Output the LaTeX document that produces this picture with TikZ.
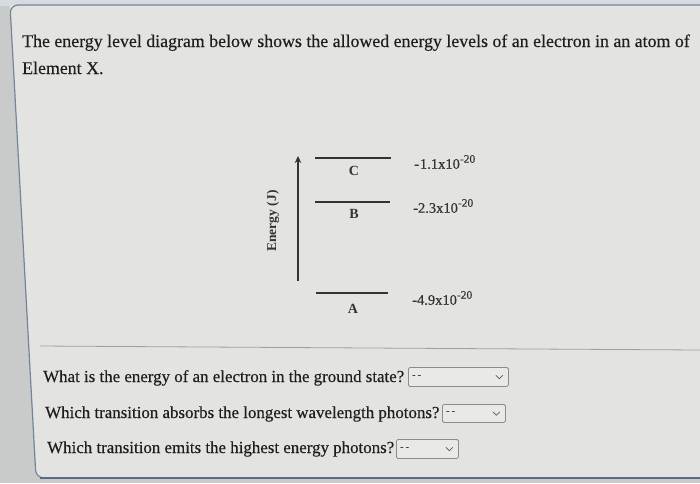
\documentclass[tikz,border=0pt]{standalone}
\usepackage{fontspec}
\setmainfont{Liberation Serif}
\newfontfamily\heavyserif{Liberation Serif}[FakeBold=0.35]
\usetikzlibrary{arrows.meta}
\definecolor{panelbg}{HTML}{E3E3E1}
\definecolor{outerbg}{HTML}{C9CBCB}
\definecolor{topbg}{HTML}{D6DBE0}
\definecolor{ink}{HTML}{1E1E1E}
\definecolor{dline}{HTML}{333333}
\definecolor{edgeblue}{HTML}{6F86A6}
\definecolor{boxedge}{HTML}{8C8C8C}
\tikzset{
  qtext/.style={anchor=base west, inner sep=0pt, text=ink, font=\heavyserif\fontsize{16.9}{19}\selectfont},
  ptext/.style={anchor=base west, inner sep=0pt, text=ink, font=\heavyserif\fontsize{17.85}{20}\selectfont},
  level/.style={draw=dline, line width=1.8pt},
  lvlabel/.style={inner sep=0pt, text=dline, font=\fontsize{14}{15}\selectfont\bfseries},
  axlabel/.style={inner sep=0pt, text=dline, font=\fontsize{13.5}{14}\selectfont\bfseries},
  valtext/.style={anchor=west, inner sep=0pt, text=dline, font=\heavyserif\fontsize{14.5}{15}\selectfont},
  ddbox/.style={draw=boxedge, line width=0.8pt, fill=panelbg!80!white, rounded corners=1.5pt, anchor=north west, inner sep=0pt},
}
\newcommand{\supv}[1]{\raisebox{6pt}{\fontsize{11.5}{12}\selectfont #1}}
\begin{document}
\begin{tikzpicture}[x=1pt,y=-1pt]
\useasboundingbox (0,0) rectangle (700,483);
% outer background
\fill[outerbg] (0,0) rectangle (700,483);
\fill[topbg] (0,0) rectangle (700,6);
% panel
\fill[panelbg] (720,5) -- (10,5) [rounded corners=8pt] -- (10,5) -- (36,478) [sharp corners] -- (720,478) -- cycle;
\draw[edgeblue!70!gray, line width=1.2pt, rounded corners=8pt] (700,5) -- (10,5) -- (36,478) -- (700,478);
\draw[edgeblue!80!black, line width=1.5pt] (40,478) -- (700,478);
% separator
\draw[gray!75, line width=0.8pt] (40,346) -- (700,350);
% paragraph
\node[ptext] (p1) at (22,47) {The energy level diagram below shows the allowed energy levels of an electron in an atom of};
\node[ptext] (p2) at (22,74) {Element X.};
% diagram
\coordinate (axb) at (298,281);
\coordinate (axt) at (298,156);
\draw[dline, line width=1.6pt, -{Stealth[length=7pt,width=6.5pt]}] (axb) -- (axt);
\node[axlabel, rotate=90] (elab) at (273,221) {Energy (J)};
\coordinate (c1) at (315,158); \coordinate (c2) at (391,158);
\coordinate (b1) at (315,202); \coordinate (b2) at (390,202);
\coordinate (a1) at (316,293); \coordinate (a2) at (388,293);
\draw[level] (c1) -- (c2);
\draw[level] (b1) -- (b2);
\draw[level] (a1) -- (a2);
\node[lvlabel] (lc) at (354,171) {C};
\node[lvlabel] (lb) at (354,214) {B};
\node[lvlabel] (la) at (353,309) {A};
\node[valtext] (vc) at (414,162) {-\kern1pt1.1x10\supv{-20}};
\node[valtext] (vb) at (413,206) {-2.3x10\supv{-20}};
\node[valtext] (va) at (412,298) {-4.9x10\supv{-20}};
% questions
\node[qtext] (q1) at (43,382) {What is the energy of an electron in the ground state?};
\node[qtext] (q2) at (45,418) {Which transition absorbs the longest wavelength photons?};
\node[qtext] (q3) at (47,453) {Which transition emits the highest energy photons?};
% dropdowns
\node[ddbox, minimum width=100pt, minimum height=19pt] (d1) at (408,367) {};
\node[ddbox, minimum width=63pt, minimum height=18pt] (d2) at (442,404) {};
\node[ddbox, minimum width=62pt, minimum height=19pt] (d3) at (396,439) {};
\foreach \d in {d1,d2,d3}{
  \node[anchor=west, inner sep=0pt, text=ink, font=\fontsize{11}{12}\selectfont] at ([xshift=4pt]\d.west) {-\,-};
  \draw[gray!70!black, line width=0.7pt] ([xshift=-13pt,yshift=1.6pt]\d.east) -- ([xshift=-9.5pt,yshift=-1.8pt]\d.east) -- ([xshift=-6pt,yshift=1.6pt]\d.east);
}
\end{tikzpicture}
\end{document}
